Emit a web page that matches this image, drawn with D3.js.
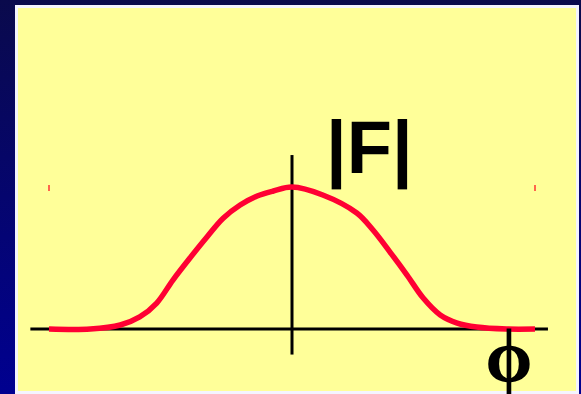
<!DOCTYPE html>
<html>
<head>
<meta charset="utf-8">
<script src="https://cdn.jsdelivr.net/npm/d3@7"></script>
<style>
  body { margin: 0; overflow: hidden; }
  svg { display: block; }
</style>
</head>
<body>
<div id="chart"></div>
<script>
// curve: phase (phi) vs amplitude |F|
let phiValues = [-3.0, -2.49, -2.12, -1.88, -1.67, -1.47, -1.26, -1.05, -0.85, -0.64, -0.43, -0.23, 0,
                 0.38, 0.80, 1.0, 1.21, 1.42, 1.62, 1.83, 2.04, 2.28, 2.65, 3.0];
let ampValues = [0, 0, 0.028, 0.085, 0.183, 0.345, 0.50, 0.648, 0.78, 0.873, 0.937, 0.972, 1.0,
                 0.944, 0.817, 0.697, 0.542, 0.38, 0.218, 0.099, 0.042, 0.014, 0, 0];
let xAxisExtent = [-3.23, 3.16];
let yAxisExtent = [-0.18, 1.225];
let peakMarks = [-3.0, 3.0];
let labels = {amp: "|F|", phase: "ϕ"};

let width = 581, height = 394;

let svg = d3.select("#chart").append("svg")
    .attr("width", width)
    .attr("height", height);

// dark blue slide background
let grad = svg.append("defs").append("linearGradient")
    .attr("id", "bg")
    .attr("x1", "0%").attr("y1", "0%")
    .attr("x2", "0%").attr("y2", "100%");
grad.append("stop").attr("offset", "0%").attr("stop-color", "#0a0a4c");
grad.append("stop").attr("offset", "100%").attr("stop-color", "#000090");

svg.append("rect")
    .attr("width", width)
    .attr("height", height)
    .attr("fill", "url(#bg)");

// yellow panel
svg.append("rect")
    .attr("x", 16.5)
    .attr("y", 6.5)
    .attr("width", 561)
    .attr("height", 386)
    .attr("fill", "#ffff99")
    .attr("stroke", "#f4f4ff")
    .attr("stroke-width", 3);

let x = d3.scaleLinear().domain([-3, 3]).range([49, 535]);
let y = d3.scaleLinear().domain([0, 1]).range([329, 187]);

// axes
svg.append("line")
    .attr("x1", x(xAxisExtent[0])).attr("x2", x(xAxisExtent[1]))
    .attr("y1", y(0)).attr("y2", y(0))
    .attr("stroke", "black").attr("stroke-width", 3);

svg.append("line")
    .attr("x1", x(0)).attr("x2", x(0))
    .attr("y1", y(yAxisExtent[0])).attr("y2", y(yAxisExtent[1]))
    .attr("stroke", "black").attr("stroke-width", 3);

// tiny red marks at peak level
svg.selectAll(".peak-mark")
    .data(peakMarks)
    .enter()
    .append("line")
    .attr("class", "peak-mark")
    .attr("x1", d => x(d)).attr("x2", d => x(d))
    .attr("y1", y(1) - 2).attr("y2", y(1) + 4)
    .attr("stroke", "#ff3333").attr("stroke-width", 1.5);

let points = phiValues.map((p, i) => [p, ampValues[i]]);

let line = d3.line()
    .x(d => x(d[0]))
    .y(d => y(d[1]))
    .curve(d3.curveCatmullRom);

svg.append("path")
    .datum(points)
    .attr("d", line)
    .attr("fill", "none")
    .attr("stroke", "#ff0033")
    .attr("stroke-width", 5.5);

// labels
svg.append("text")
    .attr("x", 326)
    .attr("y", 173)
    .attr("font-family", "Liberation Sans, Arial, sans-serif")
    .attr("font-weight", "bold")
    .attr("font-size", 74)
    .attr("fill", "black")
    .text(labels.amp);

svg.append("text")
    .attr("x", 509)
    .attr("y", 382)
    .attr("text-anchor", "middle")
    .attr("font-family", "Liberation Serif, Times New Roman, serif")
    .attr("font-weight", "bold")
    .attr("font-size", 76)
    .attr("fill", "black")
    .text(labels.phase);
</script>
</body>
</html>
